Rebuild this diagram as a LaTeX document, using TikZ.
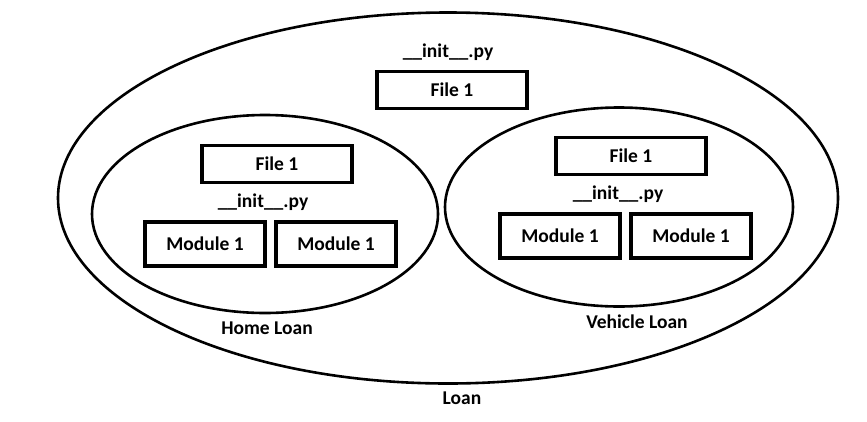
\documentclass[tikz,border=0pt]{standalone}
\usepackage{fontspec}
\setmainfont{Carlito}
\usetikzlibrary{shapes.geometric}

\tikzset{
  pkgshape/.style={draw, ellipse, line width=2.6pt, inner sep=0pt},
  filebox/.style={draw, line width=3.4pt, minimum width=150pt, minimum height=37pt, inner sep=0pt},
  modbox/.style={draw, line width=3.4pt, minimum width=120pt, minimum height=44pt, inner sep=0pt},
  lbl/.style={inner sep=0pt}
}

\begin{document}
\begin{tikzpicture}[x=1pt, y=-1pt, every node/.append style={font=\bfseries\fontsize{19.5}{22}\selectfont}]
\useasboundingbox (0,0) rectangle (867,421);

% outer package
\node [pkgshape, minimum width=780pt, minimum height=371pt] (loan) at (448,198) {};
\node [lbl] (loanname) at (462,398) {Loan};
\node [lbl] (loaninit) at (448,52) {\_\_init\_\_.py};
\node [filebox] (loanfile) at (452,90) {File 1};

% home loan package
\node [pkgshape, minimum width=346pt, minimum height=198pt] (home) at (265,214) {};
\node [lbl] (homename) at (267,328) {Home Loan};
\node [filebox] (homefile) at (277,164) {File 1};
\node [lbl] (homeinit) at (263,202) {\_\_init\_\_.py};
\node [modbox] (homemodA) at (205,244) {Module 1};
\node [modbox] (homemodB) at (336,244) {Module 1};

% vehicle loan package
\node [pkgshape, minimum width=348pt, minimum height=199pt] (vehicle) at (619,207) {};
\node [lbl] (vehiclename) at (637,322) {Vehicle Loan};
\node [filebox] (vehiclefile) at (631,156) {File 1};
\node [lbl] (vehicleinit) at (618,194) {\_\_init\_\_.py};
\node [modbox] (vehiclemodA) at (560,236) {Module 1};
\node [modbox] (vehiclemodB) at (691,236) {Module 1};

\end{tikzpicture}
\end{document}
